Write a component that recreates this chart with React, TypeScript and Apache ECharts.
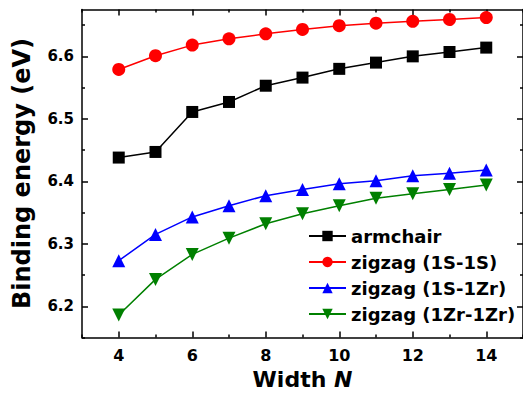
import React, { useEffect, useRef } from "react";
import * as echarts from "echarts";

const widths = [4, 5, 6, 7, 8, 9, 10, 11, 12, 13, 14];
const armchair = [6.438, 6.447, 6.511, 6.527, 6.553, 6.566, 6.58, 6.59, 6.6, 6.607, 6.614];
const zz1S1S = [6.579, 6.601, 6.618, 6.628, 6.636, 6.643, 6.649, 6.653, 6.656, 6.659, 6.662];
const zz1S1Zr = [6.273, 6.315, 6.343, 6.361, 6.377, 6.387, 6.396, 6.401, 6.409, 6.413, 6.418];
const zz1Zr1Zr = [6.186, 6.243, 6.283, 6.309, 6.332, 6.348, 6.361, 6.373, 6.38, 6.387, 6.394];

const xMajor = [4, 6, 8, 10, 12, 14];
const xMinor = [3, 5, 7, 9, 11, 13, 15];
const yMajor = [6.2, 6.3, 6.4, 6.5, 6.6];
const yMinor = [6.15, 6.25, 6.35, 6.45, 6.55, 6.65];

const FONT = "DejaVu Sans";

export default function App() {
  const ref = useRef<HTMLDivElement>(null);
  useEffect(() => {
    if (!ref.current) return;
    const chart = echarts.init(ref.current, null, { renderer: "svg" });
    const line = { show: true, lineStyle: { color: "#000", width: 1.5 } };
    const noLine = { show: false };
    const xBase = { type: "value", min: 3, max: 15, interval: 1, gridIndex: 0, splitLine: { show: false } };
    const yBase = { type: "value", min: 6.15, max: 6.675, interval: 0.05, gridIndex: 0, splitLine: { show: false } };
    const mk = (n: any[]) => n.map((x, i) => [widths[i], x]);
    const ser = (name: string, data: number[], color: string, symbol: string, size: number, rotate = 0) => ({
      name,
      type: "line",
      data: mk(data),
      symbol,
      symbolSize: size,
      symbolRotate: rotate,
      showSymbol: true,
      lineStyle: { color, width: 1.5 },
      itemStyle: { color },
      xAxisIndex: 0,
      yAxisIndex: 0,
      z: 5,
    });
    const option: any = {
      animation: false,
      grid: { left: 82, top: 9.5, width: 441, height: 328, containLabel: false, outerBoundsMode: "none" },
      xAxis: [
        {
          ...xBase,
          position: "bottom",
          axisLine: line,
          axisTick: { show: true, inside: true, length: 6, customValues: xMajor, lineStyle: { color: "#000", width: 1.5 } },
          axisLabel: {
            show: true,
            customValues: xMajor,
            margin: 10,
            color: "#000",
            fontFamily: FONT,
            fontWeight: "bold",
            fontSize: 16,
          },
          name: "{a|Width }{b|N}",
          nameLocation: "middle",
          nameGap: 27,
          nameTextStyle: {
            rich: {
              a: { fontFamily: FONT, fontWeight: "bold", fontSize: 22, color: "#000" },
              b: { fontFamily: FONT, fontWeight: "bold", fontStyle: "italic", fontSize: 22, color: "#000" },
            },
          },
        },
        {
          ...xBase,
          position: "top",
          axisLine: line,
          axisTick: { show: true, inside: true, length: 6, customValues: xMajor, lineStyle: { color: "#000", width: 1.5 } },
          axisLabel: { show: false },
        },
        {
          ...xBase,
          position: "bottom",
          axisLine: noLine,
          axisTick: { show: true, inside: true, length: 3, customValues: xMinor, lineStyle: { color: "#000", width: 1.5 } },
          axisLabel: { show: false },
        },
        {
          ...xBase,
          position: "top",
          axisLine: noLine,
          axisTick: { show: true, inside: true, length: 3, customValues: xMinor, lineStyle: { color: "#000", width: 1.5 } },
          axisLabel: { show: false },
        },
      ],
      yAxis: [
        {
          ...yBase,
          position: "left",
          axisLine: line,
          axisTick: { show: true, inside: true, length: 6, customValues: yMajor, lineStyle: { color: "#000", width: 1.5 } },
          axisLabel: {
            show: true,
            customValues: yMajor,
            margin: 8,
            color: "#000",
            fontFamily: FONT,
            fontWeight: "bold",
            fontSize: 15,
            formatter: (v: number) => v.toFixed(1),
          },
          name: "Binding energy (eV)",
          nameLocation: "middle",
          nameRotate: 90,
          nameGap: 48,
          nameTextStyle: { fontFamily: FONT, fontWeight: "bold", fontSize: 24, color: "#000" },
        },
        {
          ...yBase,
          position: "right",
          axisLine: line,
          axisTick: { show: true, inside: true, length: 6, customValues: yMajor, lineStyle: { color: "#000", width: 1.5 } },
          axisLabel: { show: false },
        },
        {
          ...yBase,
          position: "left",
          axisLine: noLine,
          axisTick: { show: true, inside: true, length: 3, customValues: yMinor, lineStyle: { color: "#000", width: 1.5 } },
          axisLabel: { show: false },
        },
        {
          ...yBase,
          position: "right",
          axisLine: noLine,
          axisTick: { show: true, inside: true, length: 3, customValues: yMinor, lineStyle: { color: "#000", width: 1.5 } },
          axisLabel: { show: false },
        },
      ],
      legend: {
        orient: "vertical",
        left: 303,
        top: 222,
        itemWidth: 37,
        itemHeight: 13,
        itemGap: 8,
        textStyle: { fontFamily: FONT, fontWeight: "bold", fontSize: 18, color: "#000" },
        data: ["armchair", "zigzag (1S-1S)", "zigzag (1S-1Zr)", "zigzag (1Zr-1Zr)"],
      },
      series: [
        ser("armchair", armchair, "#000000", "rect", 12),
        ser("zigzag (1S-1S)", zz1S1S, "#ff0000", "circle", 13),
        ser("zigzag (1S-1Zr)", zz1S1Zr, "#0000ff", "triangle", 13),
        ser("zigzag (1Zr-1Zr)", zz1Zr1Zr, "#008000", "triangle", 13, 180),
      ],
    };
    chart.setOption(option);
    return () => chart.dispose();
  }, []);
  return <div ref={ref} style={{ position: "fixed", left: 0, top: 0, width: 523, height: 395, background: "#fff" }} />;
}
